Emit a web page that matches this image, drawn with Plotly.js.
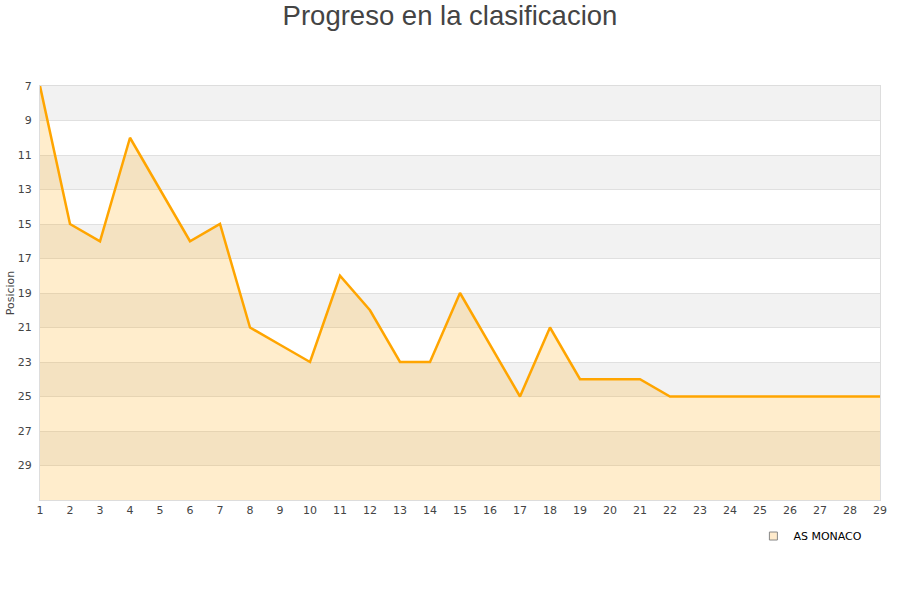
<!DOCTYPE html>
<html><head><meta charset="utf-8">
<script src="https://cdn.plot.ly/plotly-3.0.1.min.js"></script>
<style>body{margin:0;background:#fff}#chart{width:900px;height:600px}</style>
</head><body><div id="chart"></div>
<script>
const jornadas = [1,2,3,4,5,6,7,8,9,10,11,12,13,14,15,16,17,18,19,20,21,22,23,24,25,26,27,28,29];
const posicion = [7,15,16,10,13,16,15,21,22,23,18,20,23,23,19,22,25,21,24,24,24,25,25,25,25,25,25,25,25];
const equipo = "AS MONACO";
const yTicks = [7,9,11,13,15,17,19,21,23,25,27,29];
const yMin = 7, yMax = 31;

const baseline = jornadas.map(() => yMax);
const bandShapes = [];
for (let y = yMin; y < yMax; y += 4) {
  bandShapes.push({type:'rect', xref:'paper', yref:'y', x0:0, x1:1, y0:y, y1:Math.min(y+2,yMax),
    fillcolor:'#f2f2f2', line:{width:0}, layer:'below'});
}

const traces = [
  {x: jornadas, y: baseline, mode:'lines', line:{width:0}, hoverinfo:'skip', showlegend:false},
  {x: jornadas, y: posicion, mode:'lines', fill:'tonexty', fillcolor:'rgba(255,165,0,0.2)',
   line:{color:'#ffa500', width:2.5}, name:equipo, showlegend:false},
  {x:[null], y:[null], mode:'markers', name:equipo,
   marker:{symbol:'square', size:8, color:'#ffebcc', line:{color:'#888', width:1}}}
];

const layout = {
  width:900, height:600,
  margin:{l:40, r:20, t:86, b:100},
  paper_bgcolor:'#fff', plot_bgcolor:'#fff',
  font:{family:'DejaVu Sans, sans-serif', size:11, color:'#444'},
  title:{text:'Progreso en la clasificacion', x:0.5, xanchor:'center', y:0.974, yanchor:'middle',
    font:{family:'Liberation Sans, Arial, sans-serif', size:27.5, color:'#444'}},
  xaxis:{range:[1,29], tickvals:jornadas, ticktext:jornadas.map(String), showgrid:false, zeroline:false,
    showline:true, linecolor:'#ddd', mirror:true, ticks:'', tickfont:{size:11, color:'#444'}},
  yaxis:{range:[yMax,yMin], tickvals:yTicks, showgrid:true, gridcolor:'#e0e0e0', zeroline:false,
    showline:true, linecolor:'#ddd', mirror:true, ticks:'', ticklabelstandoff:5,
    tickfont:{size:11, color:'#444'},
    title:{text:'Posicion', font:{size:11, color:'#444'}, standoff:0}},
  shapes: bandShapes,
  showlegend:true,
  legend:{x:0.985, xanchor:'right', y:-0.052, yanchor:'top', orientation:'h',
    font:{size:11, color:'#000'}, bgcolor:'rgba(0,0,0,0)'}
};
Plotly.newPlot('chart', traces, layout, {displayModeBar:false, staticPlot:true});
</script></body></html>
